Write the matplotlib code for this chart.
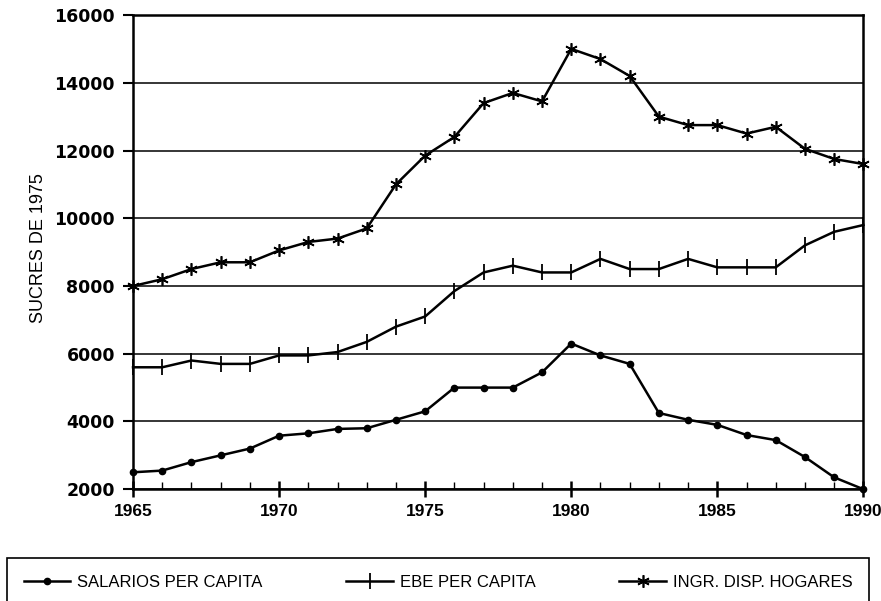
import matplotlib
matplotlib.use("Agg")
import matplotlib.pyplot as plt
from matplotlib.ticker import MultipleLocator

years = list(range(1965, 1991))

salarios = [2500, 2550, 2800, 3000, 3200, 3580, 3650, 3780, 3800, 4050,
            4300, 5000, 5000, 5000, 5450, 6300, 5950, 5700, 4250, 4050,
            3900, 3600, 3450, 2950, 2350, 2000]
ebe = [5600, 5600, 5800, 5700, 5700, 5950, 5950, 6050, 6350, 6800,
       7100, 7850, 8400, 8600, 8400, 8400, 8800, 8500, 8500, 8800,
       8550, 8550, 8550, 9200, 9600, 9800]
ingr = [8000, 8200, 8500, 8700, 8700, 9050, 9300, 9400, 9700, 11000,
        11850, 12400, 13400, 13700, 13450, 15000, 14700, 14200, 13000, 12750,
        12750, 12500, 12700, 12050, 11750, 11600]

labels = ["SALARIOS PER CAPITA", "EBE PER CAPITA", "INGR. DISP. HOGARES"]
ylabel = "SUCRES DE 1975"

fig = plt.figure(figsize=(8.81, 6.01), dpi=100)
ax = fig.add_axes([0.151, 0.186, 0.829, 0.789])

l1, = ax.plot(years, salarios, color="black", lw=1.8, marker="o", ms=4.5, clip_on=False)
l2, = ax.plot(years, ebe, color="black", lw=1.8, marker="|", ms=11, mew=1.3, clip_on=False)
l3, = ax.plot(years, ingr, color="black", lw=1.8, marker=(6, 2, 0), ms=9, mew=1.2, clip_on=False)

ax.set_xlim(1965, 1990)
ax.set_ylim(2000, 16000)
ax.xaxis.set_major_locator(MultipleLocator(5))
ax.xaxis.set_minor_locator(MultipleLocator(1))
ax.yaxis.set_major_locator(MultipleLocator(2000))
ax.grid(axis="y", color="black", lw=1.1)
ax.set_axisbelow(True)

for s in ax.spines.values():
    s.set_linewidth(1.8)

ax.tick_params(axis="x", which="major", direction="inout", length=12, width=1.8, pad=5)
ax.tick_params(axis="x", which="minor", direction="in", length=5, width=1)
ax.tick_params(axis="y", direction="out", length=7, width=1.5, pad=6)

for t in ax.get_xticklabels():
    t.set_fontfamily("Liberation Sans")
    t.set_fontweight("bold")
    t.set_fontsize(12.5)
for t in ax.get_yticklabels():
    t.set_fontfamily("DejaVu Sans")
    t.set_fontweight("bold")
    t.set_fontsize(12.5)

ax.set_ylabel(ylabel, fontsize=13, family=["Liberation Sans Narrow", "Liberation Sans"])
ax.yaxis.set_label_coords(-0.118, 0.508)

# legend box runs off the bottom edge like in the scan
leg = fig.legend([l1, l2, l3], labels, loc="upper left",
                 bbox_to_anchor=(7 / 881, 1 - 558 / 601, 862 / 881, 0), mode="expand", ncol=3,
                 frameon=True, fancybox=False, edgecolor="black", framealpha=1,
                 handlelength=2.8, handletextpad=0.4, numpoints=1, borderpad=1.0,
                 prop={"family": "Liberation Sans", "size": 12},
                 borderaxespad=0)
leg.get_frame().set_linewidth(1.2)

fig.savefig("out.png", dpi=100)
